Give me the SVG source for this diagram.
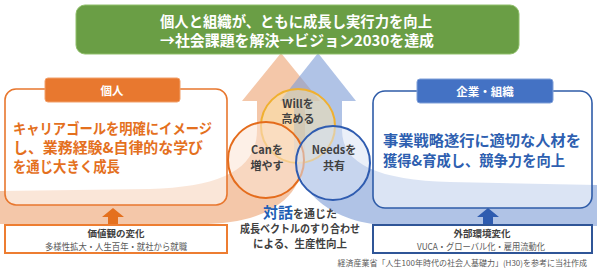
<svg xmlns="http://www.w3.org/2000/svg" width="597" height="272" viewBox="0 0 597 272">
<style>
text{font-family:"Noto Sans CJK JP","Noto Sans",sans-serif;font-weight:bold}
.ban{fill:#fff;font-size:15px}
.tab{fill:#fff;font-size:11.5px;text-anchor:middle}
.lt{fill:#e4701e;font-size:14.5px}
.rt{fill:#2e5fb0;font-size:15px}
.cl{fill:#404040;font-size:11px;text-anchor:middle}
.bh{fill:#404040;font-size:9.5px;text-anchor:middle}
.bs{fill:#595959;font-size:9px;font-weight:normal;text-anchor:middle}
.ct{fill:#404040;font-size:11px;text-anchor:middle}
.ft{fill:#595959;font-size:8px;font-weight:normal;text-anchor:end}
</style>
<g id="connectors">
<path id="orange-arrow" d="M0,191 L150,189 C220,187 257,170 257,130 L257,101 L242,101 L281,53 L320,101 L305,101 L305,150 C305,200 265,224 200,224 L0,224 Z" fill="#eda574" fill-opacity="0.62"/>
<path id="blue-arrow" d="M597,185 L450,182 C380,180 342,165 342,130 L342,101 L356,101 L318,53 L280,101 L294,101 L294,145 C294,195 335,226 400,226 L597,226 Z" fill="#7b9bd6" fill-opacity="0.6"/>
<path id="up-orange" d="M108,225 L108,217 L102,217 L113,208 L124,217 L118,217 L118,225 Z" fill="#e4701e"/>
<path id="up-blue" d="M483,225 L483,217 L477,217 L488,208 L499,217 L493,217 L493,225 Z" fill="#2f5cb0"/>
</g>
<g id="goal">
<rect x="76" y="5" width="443" height="49" rx="9" fill="#6a9e45" stroke="#8fbf6a" stroke-width="1"/>
<text class="ban" x="296" y="27" text-anchor="middle" textLength="272" lengthAdjust="spacingAndGlyphs">個人と組織が、ともに成長し実行力を向上</text>
<text class="ban" x="297" y="46" text-anchor="middle" textLength="274" lengthAdjust="spacingAndGlyphs">→社会課題を解決→ビジョン2030を達成</text>
</g>
<g id="individual">
<rect x="5" y="89" width="222" height="116" rx="11" fill="#fff" fill-opacity="0.55" stroke="#e8772e" stroke-width="1.6"/>
<rect x="45" y="78" width="135" height="24" rx="3" fill="#e8782f" stroke="#f2a06a" stroke-width="1"/>
<text class="tab" x="112" y="95">個人</text>
<text class="lt" x="13" y="134" textLength="199" lengthAdjust="spacingAndGlyphs">キャリアゴールを明確にイメージ</text>
<text class="lt" x="13" y="153" textLength="190" lengthAdjust="spacingAndGlyphs">し、業務経験&amp;自律的な学び</text>
<text class="lt" x="13" y="172" textLength="107" lengthAdjust="spacingAndGlyphs">を通じ大きく成長</text>
</g>
<g id="company">
<rect x="373" y="91" width="219" height="117" rx="12" fill="#fff" fill-opacity="0.55" stroke="#2f5ca8" stroke-width="1.6"/>
<rect x="417" y="79" width="136" height="24" rx="3" fill="#4472c4" stroke="#7f9fd8" stroke-width="1"/>
<text class="tab" x="485" y="96">企業・組織</text>
<text class="rt" x="383" y="146" textLength="198" lengthAdjust="spacingAndGlyphs">事業戦略遂行に適切な人材を</text>
<text class="rt" x="383" y="166" textLength="182" lengthAdjust="spacingAndGlyphs">獲得&amp;育成し、競争力を向上</text>
</g>
<g id="will">
<circle cx="298" cy="126" r="37" fill="#fbe5a8" fill-opacity="0.5" stroke="#f0b030" stroke-width="2"/>
<text class="cl" x="298" y="107.5">Willを</text>
<text class="cl" x="298" y="123">高める</text>
</g>
<g id="can">
<circle cx="266" cy="160" r="38" fill="#fbe3d3" fill-opacity="0.55" stroke="#e46c1c" stroke-width="2"/>
<text class="cl" x="267" y="154">Canを</text>
<text class="cl" x="267" y="169.5">増やす</text>
</g>
<g id="needs">
<circle cx="333" cy="163" r="37" fill="#dbe4f4" fill-opacity="0.55" stroke="#2f5cb0" stroke-width="2"/>
<text class="cl" x="334" y="154">Needsを</text>
<text class="cl" x="334" y="169.5">共有</text>
</g>
<g id="dialogue">
<text class="ct" x="300" y="218"><tspan fill="#1f5fb5" font-size="15">対話</tspan>を通じた</text>
<text class="ct" x="300" y="233" textLength="120" lengthAdjust="spacingAndGlyphs">成長ベクトルのすり合わせ</text>
<text class="ct" x="300" y="247.5" textLength="94" lengthAdjust="spacingAndGlyphs">による、生産性向上</text>
</g>
<g id="values">
<rect x="5" y="225" width="222" height="28" fill="#fff" stroke="#ed7d31" stroke-width="2"/>
<text class="bh" x="116" y="237">価値観の変化</text>
<text class="bs" x="116" y="249.5" textLength="142" lengthAdjust="spacingAndGlyphs">多様性拡大・人生百年・就社から就職</text>
</g>
<g id="external">
<rect x="373" y="225" width="219" height="28" fill="#fff" stroke="#2f5597" stroke-width="2"/>
<text class="bh" x="482" y="237">外部環境変化</text>
<text class="bs" x="481" y="249.5" textLength="128" lengthAdjust="spacingAndGlyphs">VUCA・グローバル化・雇用流動化</text>
</g>
<text class="ft" x="587" y="266">経済産業省「人生100年時代の社会人基礎力」(H30)を参考に当社作成</text>
</svg>
